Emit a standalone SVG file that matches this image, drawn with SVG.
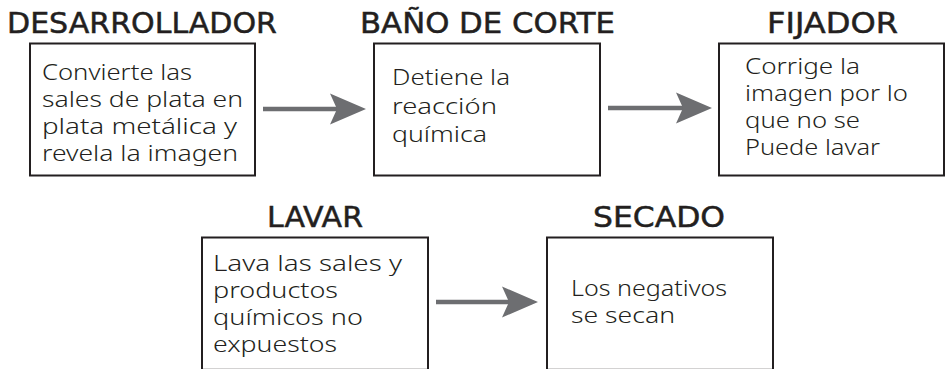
<svg xmlns="http://www.w3.org/2000/svg" width="946" height="369" viewBox="0 0 946 369">
<style>
  .title { font-family: "DejaVu Sans", "Liberation Sans", sans-serif; font-size: 29px; fill: #231f20; stroke: #231f20; stroke-width: 0.5px; }
  .body { font-family: "Noto Sans", "DejaVu Sans", sans-serif; font-weight: 300; font-size: 21.5px; fill: #231f20; }
  .box { fill: #ffffff; stroke: #231f20; stroke-width: 2; }
  .conn { stroke: #6d6e71; stroke-width: 4.5; fill: none; }
  .head { fill: #6d6e71; }
</style>
<defs>
  <path id="ah" d="M0,0 L-36,-15.5 L-29,0 L-36,15.5 Z"/>
</defs>
<rect width="946" height="369" fill="#ffffff"/>

<g id="desarrollador">
  <text class="title" x="7" y="33" textLength="270" lengthAdjust="spacingAndGlyphs">DESARROLLADOR</text>
  <rect class="box" x="30" y="43.5" width="225" height="132"/>
  <text class="body" x="42" y="80" textLength="150" lengthAdjust="spacingAndGlyphs">Convierte las</text>
  <text class="body" x="42" y="107" textLength="201" lengthAdjust="spacingAndGlyphs">sales de plata en</text>
  <text class="body" x="42" y="134" textLength="195" lengthAdjust="spacingAndGlyphs">plata metálica y</text>
  <text class="body" x="42" y="161" textLength="196" lengthAdjust="spacingAndGlyphs">revela la imagen</text>
</g>

<g id="bano">
  <text class="title" x="360" y="33" textLength="255" lengthAdjust="spacingAndGlyphs">BAÑO DE CORTE</text>
  <rect class="box" x="374" y="43.5" width="226" height="132"/>
  <text class="body" x="392" y="85" textLength="118" lengthAdjust="spacingAndGlyphs">Detiene la</text>
  <text class="body" x="392" y="114" textLength="105" lengthAdjust="spacingAndGlyphs">reacción</text>
  <text class="body" x="392" y="142" textLength="95" lengthAdjust="spacingAndGlyphs">química</text>
</g>

<g id="fijador">
  <text class="title" x="767" y="33" textLength="131" lengthAdjust="spacingAndGlyphs">FIJADOR</text>
  <rect class="box" x="719" y="43.5" width="225" height="132"/>
  <text class="body" x="745" y="74" textLength="115" lengthAdjust="spacingAndGlyphs">Corrige la</text>
  <text class="body" x="745" y="101" textLength="163" lengthAdjust="spacingAndGlyphs">imagen por lo</text>
  <text class="body" x="745" y="128" textLength="115" lengthAdjust="spacingAndGlyphs">que no se</text>
  <text class="body" x="745" y="155" textLength="135" lengthAdjust="spacingAndGlyphs">Puede lavar</text>
</g>

<g id="lavar">
  <text class="title" x="267" y="227" textLength="96" lengthAdjust="spacingAndGlyphs">LAVAR</text>
  <rect class="box" x="202" y="237.5" width="226" height="132.3"/>
  <text class="body" x="213" y="271" textLength="189" lengthAdjust="spacingAndGlyphs">Lava las sales y</text>
  <text class="body" x="213" y="298" textLength="125" lengthAdjust="spacingAndGlyphs">productos</text>
  <text class="body" x="213" y="325" textLength="150" lengthAdjust="spacingAndGlyphs">químicos no</text>
  <text class="body" x="213" y="352" textLength="124" lengthAdjust="spacingAndGlyphs">expuestos</text>
</g>

<g id="secado">
  <text class="title" x="593" y="227" textLength="132" lengthAdjust="spacingAndGlyphs">SECADO</text>
  <rect class="box" x="547" y="237.5" width="226" height="132.3"/>
  <text class="body" x="571" y="296" textLength="156" lengthAdjust="spacingAndGlyphs">Los negativos</text>
  <text class="body" x="571" y="323" textLength="104" lengthAdjust="spacingAndGlyphs">se secan</text>
</g>

<g id="connectors">
  <line class="conn" x1="263" y1="109" x2="340" y2="109"/>
  <use href="#ah" class="head" transform="translate(366,109)"/>
  <line class="conn" x1="608" y1="108" x2="686" y2="108"/>
  <use href="#ah" class="head" transform="translate(712,108)"/>
  <line class="conn" x1="436" y1="302" x2="512" y2="302"/>
  <use href="#ah" class="head" transform="translate(538,302)"/>
</g>
</svg>
